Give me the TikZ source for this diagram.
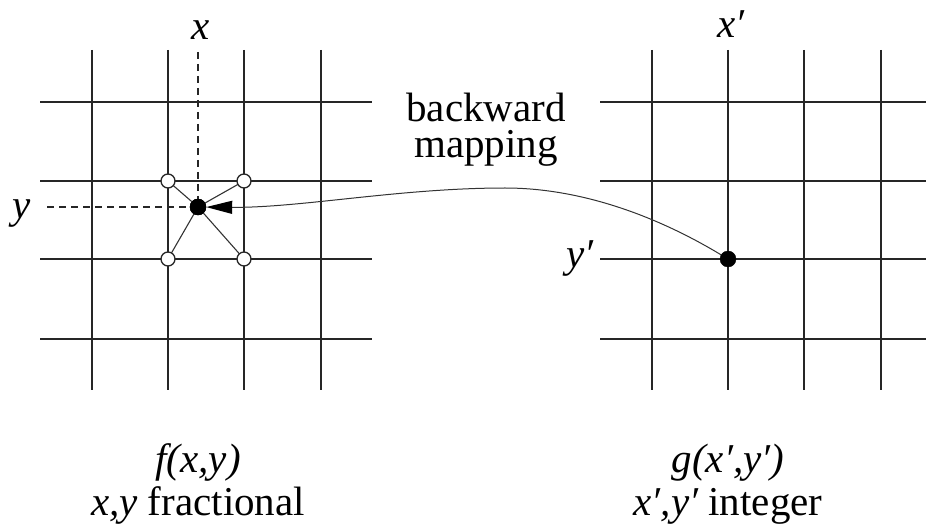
\documentclass[tikz,border=0pt]{standalone}
\usepackage{fontspec}
\setmainfont{Liberation Serif}
\newfontfamily\tms{Liberation Serif}
\usetikzlibrary{arrows.meta}
\begin{document}
\begin{tikzpicture}[x=1pt,y=-1pt,
  gridline/.style={line width=1.6pt, black!85},
  dashline/.style={line width=1.3pt, dash pattern=on 7pt off 5pt, black!85},
  starline/.style={line width=1.1pt, black!80},
  fdot/.style={circle, fill=black, draw=black, inner sep=0pt, minimum size=16pt},
  odot/.style={circle, fill=white, draw=black!85, line width=1.3pt, inner sep=0pt, minimum size=14pt},
  lbl/.style={inner sep=0pt, font=\tms\fontsize{41}{36}\selectfont},
  mapline/.style={line width=1pt, black!80, -{Triangle[length=26pt,width=13pt,fill=black,color=black]}}]
\useasboundingbox (0,0) rectangle (926,529);
% left grid
\foreach \x in {92,168,244,321} \draw[gridline] (\x,50) -- (\x,390);
\foreach \y in {102,181,259,339} \draw[gridline] (40,\y) -- (372,\y);
% right grid
\foreach \x in {652,728,804,881} \draw[gridline] (\x,50) -- (\x,390);
\foreach \y in {102,181,259,339} \draw[gridline] (600,\y) -- (926,\y);
% left point and neighbours
\coordinate (xtop) at (198,52);
\coordinate (yleft) at (47,207);
\node[fdot] (p) at (198,207) {};
\draw[dashline] (xtop) -- (p);
\draw[dashline] (yleft) -- (p);
\coordinate (c11) at (168,181);
\coordinate (c21) at (244,181);
\coordinate (c12) at (168,259);
\coordinate (c22) at (244,259);
\draw[starline] (p) -- (c11);
\draw[starline] (p) -- (c21);
\draw[starline] (p) -- (c12);
\draw[starline] (p) -- (c22);
\node[odot] (q11) at (c11) {};
\node[odot] (q21) at (c21) {};
\node[odot] (q12) at (c12) {};
\node[odot] (q22) at (c22) {};
\node[fdot] at (p) {};
% right point
\node[fdot] (r) at (728,259) {};
% mapping curve
\draw[mapline] (r) .. controls (650,212) and (575,188) .. (505,188)
  .. controls (400,188) and (300,208) .. (p);
% labels
\node[lbl, anchor=base] (xl) at (201,40) {\itshape x};
\node[lbl, anchor=base] (yl) at (22,219) {\itshape y};
\node[lbl, anchor=base] (xpl) at (731,38) {\itshape x′};
\node[lbl, anchor=base] (ypl) at (580,268) {\itshape y′};
\node[lbl, anchor=base, align=center] (bw) at (486,158) {backward\\mapping};
\node[lbl, anchor=base] (fl) at (198,472) {\itshape f(x,y)};
\node[lbl, anchor=base] (fr) at (198,515) {{\itshape x,y} fractional};
\node[lbl, anchor=base] (gl) at (728,472) {\itshape g(x′,y′)};
\node[lbl, anchor=base] (ir) at (728,515) {{\itshape x′,y′} integer};
\end{tikzpicture}
\end{document}
